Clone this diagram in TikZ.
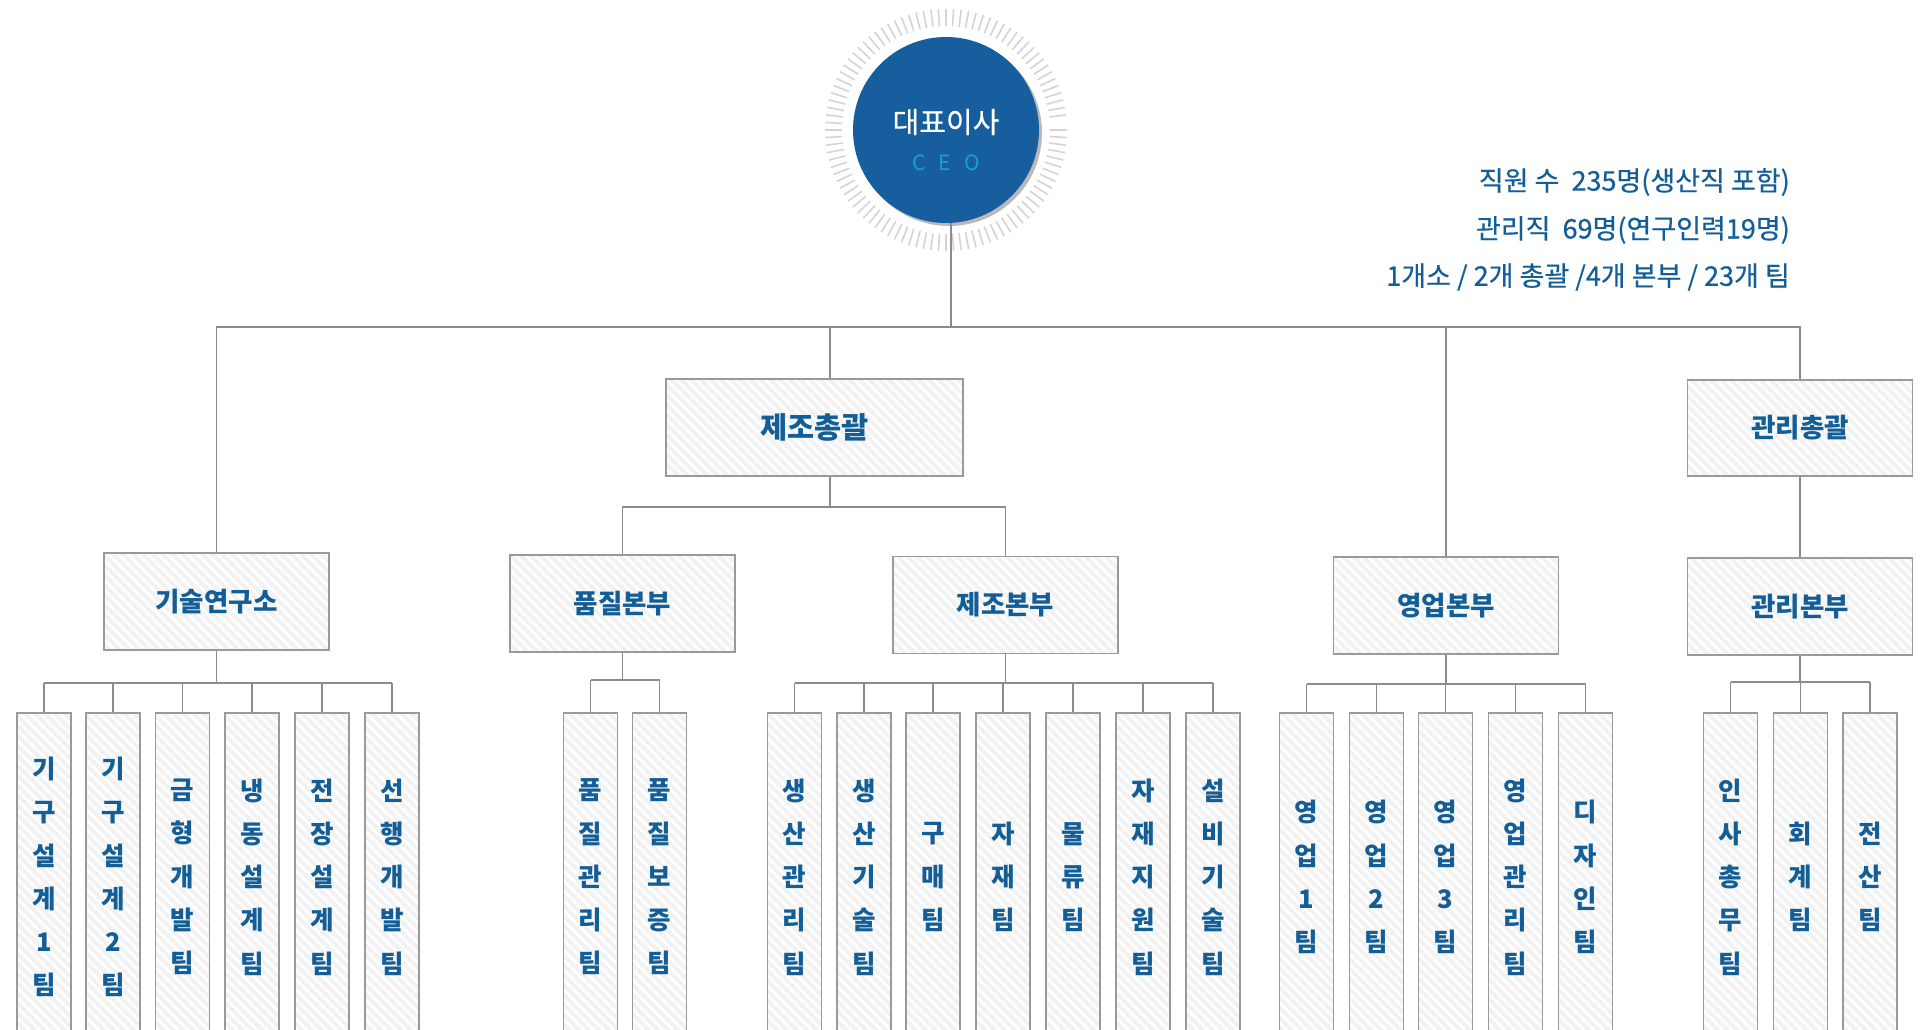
\documentclass[tikz,border=0pt]{standalone}
\usepackage{fontspec}
\newfontfamily\kr{Noto Sans CJK KR}
\newfontfamily\krmed[FakeBold=0.45]{Noto Sans CJK KR}
\usetikzlibrary{patterns.meta}
\definecolor{tblue}{HTML}{135E97}
\definecolor{ceoblue}{HTML}{165E9E}
\definecolor{ceocyan}{HTML}{1AA0D2}
\definecolor{linegray}{HTML}{8C8C8C}
\definecolor{boxgray}{HTML}{9A9A9A}
\definecolor{boxfill}{HTML}{F2F2F2}
\definecolor{tickgray}{HTML}{D4D4D4}
\tikzset{
  conn/.style={draw=linegray, line width=1.7pt},
  orgbox/.style={draw=boxgray, line width=1.8pt,
    preaction={fill=boxfill},
    preaction={pattern={Lines[angle=-45,distance=7pt,line width=2.5pt]}, pattern color=white},
    text=tblue, inner sep=0pt},
  midbox/.style={orgbox, minimum width=225pt, minimum height=97pt,
    font=\kr\bfseries\fontsize{26.5}{30}\selectfont},
  teambox/.style={orgbox, minimum width=54pt, minimum height=328pt, align=center,
    font=\kr\bfseries\fontsize{25.5}{43.3}\selectfont},
  infotext/.style={text=tblue, anchor=east, inner sep=0pt, font=\krmed\fontsize{27}{30}\selectfont},
  ticks/.style={draw=tickgray, line width=1.6pt}
}
\begin{document}
\begin{tikzpicture}[x=1pt,y=-1pt]
\useasboundingbox (0,0) rectangle (1924,1030);
\clip (0,0) rectangle (1924,1030);
\fill[white] (0,0) rectangle (1924,1030);

% bus coordinates
\coordinate (bus) at (0,327);
\coordinate (sbm) at (0,507);
\coordinate (sb1) at (0,683);
\coordinate (sb2) at (0,680);
\coordinate (sb3) at (0,683);
\coordinate (sb4) at (0,684);
\coordinate (sb5) at (0,682);
\coordinate (xceo) at (951,0);
\coordinate (xmfg) at (830,0);

% CEO
\foreach \a in {0,3.6,...,356.4}
  \draw[ticks] (946,130) ++(\a:104) -- ++(\a:17);
\fill[gray!55] (949,133) circle (93);
\node[circle, fill=ceoblue, minimum size=186pt, inner sep=0pt] (ceo) at (946,130) {};
\node[text=white, font=\krmed\fontsize{29}{32}\selectfont, inner sep=0pt] (ceokr) at (946,122) {대표이사};
\node[text=ceocyan, font=\kr\fontsize{21}{24}\selectfont, inner sep=0pt] (ceoen) at (946,163) {C\hspace{13pt}E\hspace{13pt}O};

% info
\node[infotext] (info1) at (1790,182) {직원 수 \ 235명(생산직 포함)};
\node[infotext] (info2) at (1790,230) {관리직 \ 69명(연구인력19명)};
\node[infotext] (info3) at (1790,277) {1개소 / 2개 총괄 /4개 본부 / 23개 팀};

% level 1
\node[midbox, minimum width=297pt, font=\kr\bfseries\fontsize{29.5}{32}\selectfont] (mfg) at (814.5,427.5) {제조총괄};
\node[midbox, minimum height=96pt] (adm) at (1800,428) {관리총괄};

% level 2
\node[midbox] (lab) at (216.5,601.5) {기술연구소};
\node[midbox] (qa) at (622.5,603.5) {품질본부};
\node[midbox] (prod) at (1005.5,605) {제조본부};
\node[midbox] (sales) at (1446,605.5) {영업본부};
\node[midbox] (mgmt) at (1800,606.5) {관리본부};

% teams
\node[teambox] (t11) at (44,877) {기\\구\\설\\계\\1\\팀};
\node[teambox] (t12) at (113,877) {기\\구\\설\\계\\2\\팀};
\node[teambox] (t13) at (182.5,877) {금\\형\\개\\발\\팀};
\node[teambox] (t14) at (252,877) {냉\\동\\설\\계\\팀};
\node[teambox] (t15) at (322,877) {전\\장\\설\\계\\팀};
\node[teambox] (t16) at (392,877) {선\\행\\개\\발\\팀};

\node[teambox] (t21) at (590.5,877) {품\\질\\관\\리\\팀};
\node[teambox] (t22) at (659.5,877) {품\\질\\보\\증\\팀};

\node[teambox] (t31) at (794.5,877) {생\\산\\관\\리\\팀};
\node[teambox] (t32) at (864,877) {생\\산\\기\\술\\팀};
\node[teambox] (t33) at (933,877) {구\\매\\팀};
\node[teambox] (t34) at (1003,877) {자\\재\\팀};
\node[teambox] (t35) at (1073,877) {물\\류\\팀};
\node[teambox] (t36) at (1143,877) {자\\재\\지\\원\\팀};
\node[teambox] (t37) at (1213,877) {설\\비\\기\\술\\팀};

\node[teambox] (t41) at (1306.5,877) {영\\업\\1\\팀};
\node[teambox] (t42) at (1376.5,877) {영\\업\\2\\팀};
\node[teambox] (t43) at (1445.5,877) {영\\업\\3\\팀};
\node[teambox] (t44) at (1515.5,877) {영\\업\\관\\리\\팀};
\node[teambox] (t45) at (1585.5,877) {디\\자\\인\\팀};

\node[teambox] (t51) at (1730.5,877) {인\\사\\총\\무\\팀};
\node[teambox] (t52) at (1800.5,877) {회\\계\\팀};
\node[teambox] (t53) at (1870,877) {전\\산\\팀};

% connectors: CEO level
\draw[conn] (xceo |- ceo.south) -- (xceo |- bus);
\draw[conn] (lab.north) -- (lab.north |- bus) -- (adm.north |- bus) -- (adm.north);
\draw[conn] (xmfg |- bus) -- (xmfg |- mfg.north);
\draw[conn] (sales.north |- bus) -- (sales.north);

% 제조총괄
\draw[conn] (xmfg |- mfg.south) -- (xmfg |- sbm);
\draw[conn] (qa.north) -- (qa.north |- sbm) -- (prod.north |- sbm) -- (prod.north);

% 관리총괄
\draw[conn] (adm.south) -- (mgmt.north);

% team buses
\draw[conn] (lab.south) -- (lab.south |- sb1);
\draw[conn] (t11.north |- sb1) -- (t16.north |- sb1);
\foreach \t in {t11,t12,t13,t14,t15,t16} \draw[conn] (\t.north) -- (\t.north |- sb1);

\draw[conn] (qa.south) -- (qa.south |- sb2);
\draw[conn] (t21.north |- sb2) -- (t22.north |- sb2);
\foreach \t in {t21,t22} \draw[conn] (\t.north) -- (\t.north |- sb2);

\draw[conn] (prod.south) -- (prod.south |- sb3);
\draw[conn] (t31.north |- sb3) -- (t37.north |- sb3);
\foreach \t in {t31,t32,t33,t34,t35,t36,t37} \draw[conn] (\t.north) -- (\t.north |- sb3);

\draw[conn] (sales.south) -- (sales.south |- sb4);
\draw[conn] (t41.north |- sb4) -- (t45.north |- sb4);
\foreach \t in {t41,t42,t43,t44,t45} \draw[conn] (\t.north) -- (\t.north |- sb4);

\draw[conn] (mgmt.south) -- (mgmt.south |- sb5);
\draw[conn] (t51.north |- sb5) -- (t53.north |- sb5);
\foreach \t in {t51,t52,t53} \draw[conn] (\t.north) -- (\t.north |- sb5);
\end{tikzpicture}
\end{document}
